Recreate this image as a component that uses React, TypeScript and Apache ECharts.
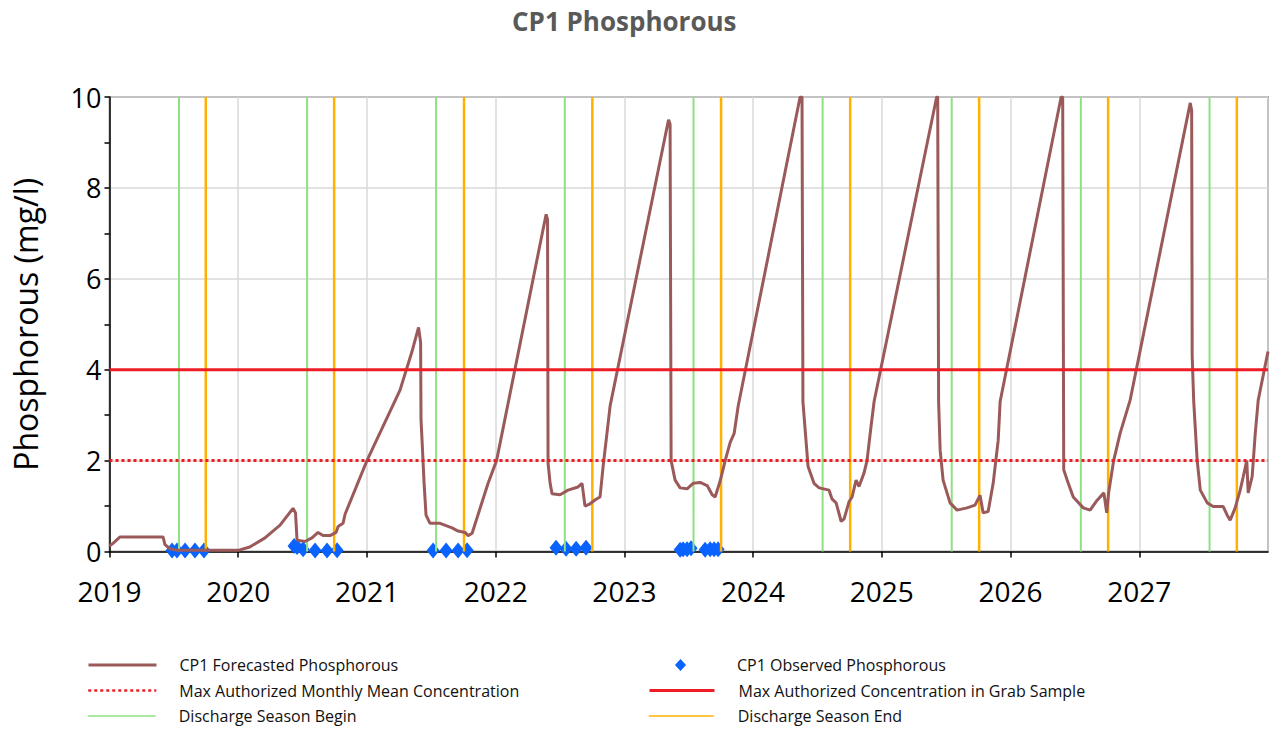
import React, { useEffect, useRef } from "react";
import * as echarts from "echarts";

// ---- data (decimal years, mg/l) ----
const forecast: [number, number][] = [
  [2019.0, 0.12], [2019.027, 0.18], [2019.082, 0.32], [2019.416, 0.32], [2019.431, 0.15],
  [2019.47, 0.06], [2019.517, 0.03], [2020.006, 0.03], [2020.09, 0.1], [2020.208, 0.3],
  [2020.325, 0.58], [2020.426, 0.95], [2020.445, 0.85], [2020.457, 0.25], [2020.518, 0.22],
  [2020.573, 0.3], [2020.62, 0.42], [2020.659, 0.35], [2020.713, 0.35], [2020.76, 0.42],
  [2020.776, 0.55], [2020.814, 0.62], [2020.83, 0.82], [2021.0, 2.0], [2021.257, 3.55],
  [2021.35, 4.4], [2021.374, 4.65], [2021.401, 4.93], [2021.417, 4.6], [2021.42, 2.9],
  [2021.428, 2.45], [2021.444, 1.5], [2021.459, 0.8], [2021.49, 0.62], [2021.568, 0.62],
  [2021.661, 0.52], [2021.708, 0.45], [2021.762, 0.42], [2021.786, 0.35], [2021.817, 0.4],
  [2021.879, 0.95], [2021.941, 1.5], [2022.007, 2.0], [2022.392, 7.42], [2022.403, 7.3],
  [2022.407, 1.95], [2022.423, 1.5], [2022.438, 1.27], [2022.5, 1.25], [2022.562, 1.35],
  [2022.64, 1.42], [2022.671, 1.5], [2022.694, 1.0], [2022.733, 1.05], [2022.78, 1.15],
  [2022.811, 1.2], [2022.834, 1.85], [2022.889, 3.2], [2023.343, 9.5], [2023.355, 9.4],
  [2023.363, 2.0], [2023.394, 1.57], [2023.433, 1.4], [2023.487, 1.38], [2023.534, 1.5],
  [2023.588, 1.52], [2023.643, 1.45], [2023.682, 1.25], [2023.705, 1.2], [2023.744, 1.55],
  [2023.783, 2.0], [2023.822, 2.4], [2023.853, 2.6], [2023.884, 3.2], [2024.365, 10.0],
  [2024.38, 10.0], [2024.387, 3.3], [2024.427, 1.87], [2024.473, 1.5], [2024.513, 1.4],
  [2024.59, 1.35], [2024.614, 1.15], [2024.645, 1.07], [2024.684, 0.66], [2024.707, 0.72],
  [2024.746, 1.1], [2024.769, 1.2], [2024.8, 1.57], [2024.823, 1.43], [2024.862, 1.73],
  [2024.885, 2.0], [2024.916, 2.75], [2024.94, 3.3], [2025.426, 10.0], [2025.434, 10.0],
  [2025.441, 3.3], [2025.453, 2.23], [2025.476, 1.57], [2025.53, 1.07], [2025.584, 0.91],
  [2025.662, 0.96], [2025.724, 1.02], [2025.763, 1.24], [2025.787, 0.85], [2025.826, 0.88],
  [2025.865, 1.5], [2025.904, 2.45], [2025.919, 3.3], [2026.393, 10.0], [2026.405, 10.0],
  [2026.413, 1.8], [2026.44, 1.57], [2026.487, 1.2], [2026.565, 0.96], [2026.618, 0.91],
  [2026.673, 1.13], [2026.725, 1.29], [2026.747, 0.85], [2026.762, 1.29], [2026.801, 2.0],
  [2026.851, 2.6], [2026.929, 3.33], [2027.396, 9.87], [2027.407, 9.7], [2027.411, 4.3],
  [2027.423, 3.3], [2027.45, 2.0], [2027.474, 1.35], [2027.528, 1.07], [2027.574, 0.99],
  [2027.652, 0.99], [2027.683, 0.8], [2027.706, 0.69], [2027.745, 0.96], [2027.784, 1.35],
  [2027.808, 1.65], [2027.835, 2.0], [2027.846, 1.29], [2027.877, 1.65], [2027.901, 2.6],
  [2027.924, 3.33], [2028.0, 4.4],
];

const observed: [number, number][] = [
  [2019.486, 0.02], [2019.524, 0.02], [2019.587, 0.02], [2019.664, 0.02], [2019.734, 0.02],
  [2020.434, 0.12], [2020.457, 0.1], [2020.504, 0.05], [2020.597, 0.02], [2020.69, 0.02], [2020.768, 0.03],
  [2021.514, 0.02], [2021.615, 0.02], [2021.708, 0.02], [2021.778, 0.03],
  [2022.469, 0.08], [2022.547, 0.06], [2022.625, 0.06], [2022.702, 0.08],
  [2023.433, 0.04], [2023.456, 0.05], [2023.487, 0.05], [2023.518, 0.07],
  [2023.627, 0.04], [2023.666, 0.05], [2023.697, 0.05], [2023.728, 0.05],
];

const seasonBegin = [2019.54, 2020.535, 2021.537, 2022.537, 2023.537, 2024.54, 2025.543, 2026.546, 2027.546];
const seasonEnd = [2019.748, 2020.745, 2021.754, 2022.751, 2023.751, 2024.754, 2025.756, 2026.758, 2027.758];

const monthlyMeanLimit = 2;
const grabSampleLimit = 4;
const xRange = [2019, 2028];
const yRange = [0, 10];

const NAMES = {
  forecast: "CP1 Forecasted Phosphorous",
  observed: "CP1 Observed Phosphorous",
  monthly: "Max Authorized Monthly Mean Concentration",
  grab: "Max Authorized Concentration in Grab Sample",
  begin: "Discharge Season Begin",
  end: "Discharge Season End",
};

function verticals(xs: number[]): any[] {
  const out: any[] = [];
  xs.forEach((x) => {
    out.push([x, yRange[0]], [x, yRange[1]], [x, "-"]);
  });
  return out;
}

const FONT = "'Open Sans', 'Noto Sans', sans-serif";
// diamond centred in a 65x12 box (degenerate end segments fix the bounds)
const DIAMOND = "path://M0,6 L0.01,6 Z M32.5,0 L38,6 L32.5,12 L27,6 Z M64.99,6 L65,6 Z";

export default function App() {
  const ref = useRef<HTMLDivElement>(null);
  useEffect(() => {
    if (!ref.current) return;
    const chart = echarts.init(ref.current, undefined, { renderer: "svg" });
    const legendText = { fontFamily: FONT, fontSize: 16, color: "#111", lineHeight: 16 };
    const rowTops = [657, 682.5, 708];
    const mkLegend = (left: number, top: number, w: number, pad: number, item: any) => ({
      left,
      top,
      orient: "horizontal",
      itemWidth: w,
      itemHeight: 12,
      padding: 0,
      selectedMode: false,
      symbolKeepAspect: false,
      textStyle: { ...legendText, padding: [0, 0, 0, pad] },
      data: [item],
    });
    chart.setOption({
      animation: false,
      backgroundColor: "#ffffff",
      title: {
        text: "CP1 Phosphorous",
        left: 507,
        top: 3,
        textStyle: { fontFamily: FONT, fontSize: 26, fontWeight: "bold", color: "#595959" },
      },
      grid: {
        left: 109.5,
        right: 3,
        top: 97,
        bottom: 180.5,
        show: true,
        borderColor: "#595959",
        borderWidth: 1.5,
      },
      legend: [
        mkLegend(87, rowTops[0], 68, 18, { name: NAMES.forecast, itemStyle: { opacity: 0 }, lineStyle: { width: 3 } }),
        mkLegend(87, rowTops[1], 68, 18, { name: NAMES.monthly, itemStyle: { opacity: 0 }, lineStyle: { width: 2.5 } }),
        mkLegend(87, rowTops[2], 68, 18, { name: NAMES.begin, itemStyle: { opacity: 0 }, lineStyle: { width: 1.5 } }),
        mkLegend(648, rowTops[0], 65, 19, { name: NAMES.observed, icon: DIAMOND }),
        mkLegend(648, rowTops[1], 65, 19, { name: NAMES.grab, itemStyle: { opacity: 0 }, lineStyle: { width: 3 } }),
        mkLegend(648, rowTops[2], 65, 19, { name: NAMES.end, itemStyle: { opacity: 0 }, lineStyle: { width: 1.5 } }),
      ],
      xAxis: {
        type: "value",
        min: xRange[0],
        max: xRange[1],
        interval: 1,
        axisLine: { show: true, onZero: false, lineStyle: { color: "#000", width: 1.5 } },
        axisTick: { show: true, length: 6, lineStyle: { color: "#000", width: 1.5 } },
        axisLabel: {
          margin: 25,
          fontFamily: FONT,
          fontSize: 28,
          color: "#000",
          showMaxLabel: false,
          formatter: (v: number) => String(Math.round(v)),
        },
        splitLine: { show: true, lineStyle: { color: "#d9d9d9", width: 1.5 } },
      },
      yAxis: {
        type: "value",
        min: yRange[0],
        max: yRange[1],
        interval: 2,
        name: "Phosphorous (mg/l)",
        nameLocation: "middle",
        nameRotate: 90,
        nameGap: 68,
        nameTextStyle: { fontFamily: FONT, fontSize: 32, color: "#000" },
        axisLine: { show: true, lineStyle: { color: "#000", width: 1.5 } },
        axisTick: { show: true, length: 5, lineStyle: { color: "#000", width: 1.5 } },
        minorTick: { show: true, splitNumber: 2, length: 5, lineStyle: { color: "#000", width: 1.5 } },
        axisLabel: { margin: 8, fontFamily: FONT, fontSize: 27, color: "#000" },
        splitLine: { show: true, lineStyle: { color: "#d9d9d9", width: 1.5 } },
      },
      series: [
        {
          name: NAMES.begin,
          type: "line",
          data: verticals(seasonBegin),
          symbol: "none",
          connectNulls: false,
          lineStyle: { color: "#8ee082", width: 2 },
          itemStyle: { color: "#8ee082" },
          silent: true,
        },
        {
          name: NAMES.end,
          type: "line",
          data: verticals(seasonEnd),
          symbol: "none",
          connectNulls: false,
          lineStyle: { color: "#ffb000", width: 2.5 },
          itemStyle: { color: "#ffb000" },
          silent: true,
        },
        {
          name: NAMES.forecast,
          type: "line",
          data: forecast,
          symbol: "none",
          lineStyle: { color: "#9b5a5a", width: 3 },
          itemStyle: { color: "#9b5a5a" },
          silent: true,
        },
        {
          name: NAMES.monthly,
          type: "line",
          data: [[xRange[0], monthlyMeanLimit], [xRange[1], monthlyMeanLimit]],
          symbol: "none",
          lineStyle: { color: "#ee1c25", width: 3, type: [3, 3], cap: "butt" },
          itemStyle: { color: "#ee1c25" },
          silent: true,
        },
        {
          name: NAMES.grab,
          type: "line",
          data: [[xRange[0], grabSampleLimit], [xRange[1], grabSampleLimit]],
          symbol: "none",
          lineStyle: { color: "#ee1c25", width: 3 },
          itemStyle: { color: "#ee1c25" },
          silent: true,
        },
        {
          name: NAMES.observed,
          type: "scatter",
          data: observed,
          symbol: "diamond",
          symbolSize: [13, 16],
          itemStyle: { color: "#0a62ff", opacity: 1 },
          silent: true,
        },
      ],
    });
    return () => chart.dispose();
  }, []);
  return (
    <div
      ref={ref}
      style={{ position: "fixed", left: 0, top: 0, width: 1271, height: 732 }}
    />
  );
}
